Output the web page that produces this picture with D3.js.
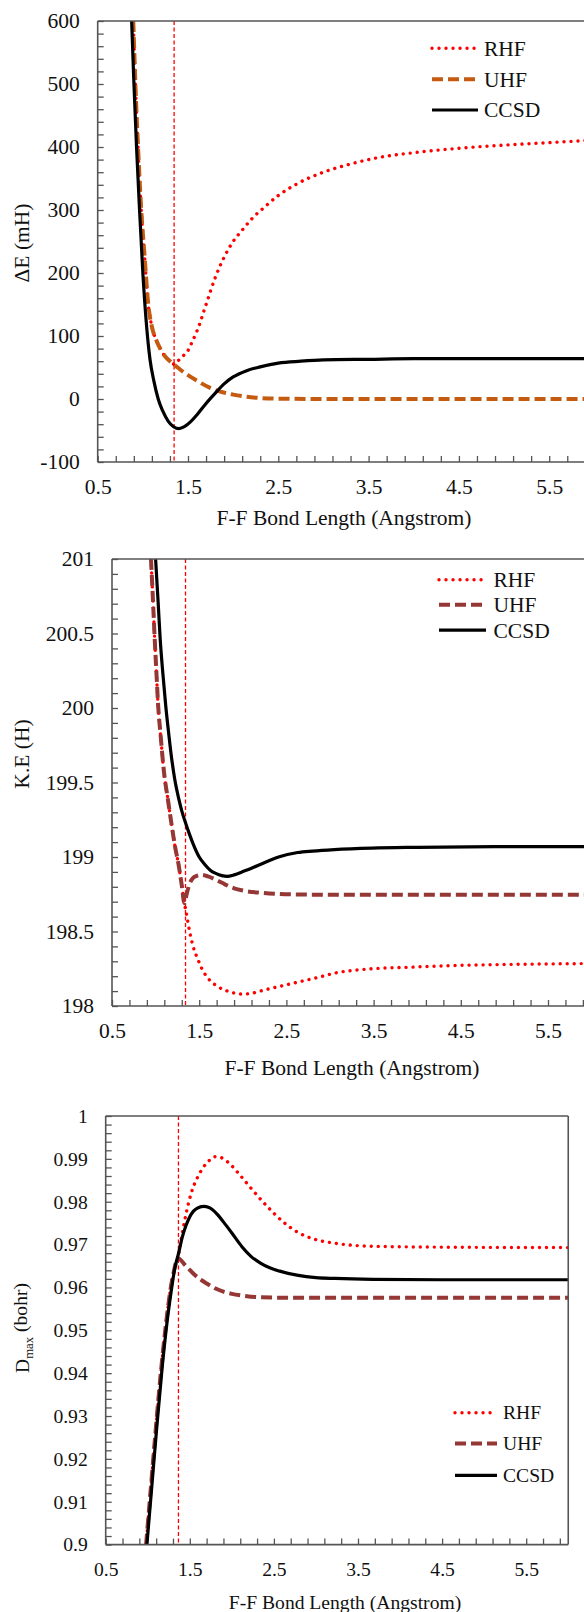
<!DOCTYPE html>
<html><head><meta charset="utf-8">
<script src="https://cdn.jsdelivr.net/npm/d3@7"></script>
<style>
html,body{margin:0;padding:0;background:#fff;}
svg{display:block;}
svg text{font-family:"Liberation Serif","Tinos","Times New Roman",serif;fill:#111;}
</style></head>
<body>
<svg id="chart" width="584" height="1612"></svg>
<script>
// ---------------- DATA ----------------
const seriesNames = ["RHF", "UHF", "CCSD"];
const xTickLabels = [0.5, 1.5, 2.5, 3.5, 4.5, 5.5];
const xTitle = "F-F Bond Length (Angstrom)";

// Panel 1: ΔE (mH)
const dETicks = [-100, 0, 100, 200, 300, 400, 500, 600];
const dE_RHF = [[0.894,600],[0.92,490],[0.95,390],[0.98,305],[1.02,225],[1.06,150],[1.1,115],[1.15,93],[1.2,78],[1.25,67],[1.3,60],[1.35,55],[1.4,62],[1.45,69],[1.5,77],[1.55,92],[1.6,108],[1.7,150],[1.8,192],[1.9,225],[2.0,250],[2.1,268],[2.2,285],[2.35,305],[2.5,323],[2.7,341],[3.0,360],[3.3,373],[3.6,383],[4.0,391],[4.5,398],[5.0,403],[5.5,407],[6.0,411]];
const dE_UHF = [[0.894,600],[0.92,490],[0.95,390],[0.98,305],[1.02,225],[1.06,150],[1.1,115],[1.15,93],[1.2,78],[1.25,67],[1.3,60],[1.35,54],[1.42,46],[1.5,38],[1.6,29],[1.74,18],[1.85,12],[2.0,7],[2.15,3.5],[2.3,1.5],[2.5,0.5],[3.0,0],[4.0,0],[5.0,0],[6.0,0]];
const dE_CCSD = [[0.876,600],[0.9,505],[0.93,400],[0.96,310],[1.0,200],[1.04,118],[1.08,62],[1.12,30],[1.17,0],[1.22,-19],[1.28,-35],[1.34,-44],[1.40,-47],[1.46,-44],[1.53,-36],[1.6,-25],[1.7,-7],[1.8,9],[1.9,24],[2.0,35],[2.15,45],[2.3,51],[2.5,57],[2.75,60],[3.0,62],[3.5,63],[4.0,64],[5.0,64],[6.0,64]];

// Panel 2: K.E (H)
const keTicks = [198, 198.5, 199, 199.5, 200, 200.5, 201];
const ke_RHF = [[0.947,201],[0.97,200.72],[0.99,200.46],[1.01,200.23],[1.03,200.01],[1.06,199.8],[1.096,199.57],[1.14,199.39],[1.18,199.23],[1.22,199.08],[1.266,198.94],[1.30,198.81],[1.33,198.69],[1.35,198.63],[1.39,198.50],[1.43,198.40],[1.48,198.32],[1.54,198.24],[1.61,198.18],[1.7,198.135],[1.78,198.11],[1.88,198.09],[1.99,198.08],[2.1,198.085],[2.2,198.10],[2.3,198.115],[2.41,198.13],[2.63,198.16],[2.85,198.19],[3.05,198.22],[3.48,198.25],[3.9,198.26],[4.33,198.27],[5.18,198.28],[6.0,198.285]];
const ke_UHF = [[0.947,201],[0.97,200.72],[0.99,200.46],[1.01,200.23],[1.03,200.01],[1.06,199.8],[1.096,199.57],[1.14,199.39],[1.18,199.23],[1.22,199.08],[1.266,198.94],[1.30,198.81],[1.33,198.69],[1.36,198.76],[1.39,198.82],[1.43,198.86],[1.48,198.875],[1.53,198.88],[1.6,198.87],[1.7,198.845],[1.8,198.815],[1.9,198.79],[2.0,198.775],[2.2,198.76],[2.4,198.752],[2.7,198.748],[3.0,198.747],[4.0,198.747],[5.0,198.747],[6.0,198.747]];
const ke_CCSD = [[1.0,201],[1.03,200.7],[1.053,200.46],[1.085,200.22],[1.117,200.01],[1.15,199.83],[1.18,199.68],[1.22,199.52],[1.266,199.39],[1.3,199.31],[1.343,199.23],[1.39,199.15],[1.436,199.08],[1.5,199.0],[1.564,198.95],[1.63,198.91],[1.69,198.89],[1.76,198.875],[1.82,198.87],[1.9,198.88],[1.99,198.9],[2.1,198.925],[2.2,198.95],[2.3,198.975],[2.41,199.0],[2.63,199.03],[2.8,199.04],[3.05,199.05],[3.48,199.06],[4.0,199.065],[5.0,199.07],[6.0,199.07]];

// Panel 3: Dmax (bohr)
const dmTicks = [0.9, 0.91, 0.92, 0.93, 0.94, 0.95, 0.96, 0.97, 0.98, 0.99, 1];
const dm_RHF = [[0.98,0.9],[1.04,0.914],[1.10,0.928],[1.16,0.941],[1.22,0.952],[1.27,0.9595],[1.31,0.9637],[1.358,0.9668],[1.40,0.9715],[1.456,0.9772],[1.52,0.9822],[1.59,0.9856],[1.66,0.988],[1.72,0.9894],[1.80,0.9905],[1.87,0.9903],[1.95,0.9893],[2.08,0.9866],[2.17,0.9845],[2.26,0.9824],[2.43,0.9787],[2.61,0.9753],[2.79,0.9728],[3.01,0.9711],[3.23,0.9703],[3.68,0.9696],[4.5,0.9694],[6.0,0.9693]];
const dm_UHF = [[0.98,0.9],[1.04,0.914],[1.10,0.928],[1.16,0.941],[1.22,0.952],[1.27,0.9595],[1.31,0.9637],[1.358,0.9668],[1.45,0.9651],[1.544,0.9632],[1.63,0.9618],[1.72,0.9607],[1.8,0.9598],[1.9,0.959],[2.0,0.9585],[2.12,0.9581],[2.34,0.9577],[2.7,0.9576],[4.0,0.9576],[6.0,0.9576]];
const dm_CCSD = [[0.99,0.9],[1.05,0.914],[1.11,0.928],[1.17,0.941],[1.23,0.952],[1.278,0.959],[1.32,0.9643],[1.367,0.968],[1.41,0.9717],[1.456,0.9745],[1.5,0.9765],[1.544,0.9778],[1.6,0.9786],[1.67,0.9789],[1.72,0.9787],[1.767,0.9782],[1.83,0.977],[1.9,0.9753],[2.0,0.9727],[2.12,0.9695],[2.23,0.9672],[2.34,0.9657],[2.45,0.9646],[2.57,0.9638],[2.79,0.9628],[3.0,0.9623],[3.23,0.9621],[3.68,0.9619],[4.5,0.9618],[6.0,0.9618]];

// Vertical reference line (bond length) per panel
const refLineX = [1.346, 1.343, 1.365];

// ---------------- LAYOUT / STYLE ----------------
const FONT = '"Liberation Serif","Tinos","Times New Roman",serif';
const svg = d3.select("#chart");
svg.append("rect").attr("width",584).attr("height",1612).attr("fill","#fff");

const AXIS_COLOR = "#555";
const RED = "#ff0000";

const panels = [
  { L:97.7, T:21, B:462, unit:90.3, yDom:[-100,600], yMinor:20, yTicks:dETicks, fmt:d=>String(d),
    font:21.5, series:[dE_RHF,dE_UHF,dE_CCSD], uhfColor:"#c55a11",
    ytitle:[{t:"\u0394E (mH)"}], ytX:22, ytY:243, xtY:525, xtX:344,
    legX:432, legLen:46, legText:484, legRows:[48.2,79.3,110], ref:refLineX[0] },
  { L:112, T:559, B:1006, unit:87.2, yDom:[198,201], yMinor:0.1, yTicks:keTicks, fmt:d=>String(d),
    font:21.5, series:[ke_RHF,ke_UHF,ke_CCSD], uhfColor:"#953735",
    ytitle:[{t:"K.E (H)"}], ytX:22, ytY:754, xtY:1075, xtX:352,
    legX:439, legLen:47, legText:493.5, legRows:[579.8,604.7,630.2], ref:refLineX[1] },
  { L:105.7, T:1116, B:1544.6, unit:84.1, yDom:[0.9,1], yMinor:0.002, yTicks:dmTicks, fmt:d=>String(d),
    font:19.6, series:[dm_RHF,dm_UHF,dm_CCSD], uhfColor:"#953735",
    ytitle:[{t:"D"},{t:"max",sub:true},{t:" (bohr)"}], ytX:22, ytY:1328, xtY:1609, xtX:345,
    legX:455, legLen:42, legText:503, legRows:[1412.7,1443.5,1475.4], ref:refLineX[2] }
];

panels.forEach((p, pi) => {
  const R = p.L + 5.5 * p.unit;
  const x = d3.scaleLinear().domain([0.5, 6]).range([p.L, R]);
  const y = d3.scaleLinear().domain(p.yDom).range([p.B, p.T]);
  const g = svg.append("g").attr("font-family", FONT);

  const clipId = "clip" + pi;
  svg.append("clipPath").attr("id", clipId).append("rect")
    .attr("x", p.L).attr("y", p.T).attr("width", R - p.L).attr("height", p.B - p.T);

  const nY = Math.round((p.yDom[1] - p.yDom[0]) / p.yMinor);
  const yMinorVals = d3.range(0, nY + 1).map(i => +(p.yDom[0] + i * p.yMinor).toFixed(6));
  const xMinorVals = d3.range(0, 28).map(i => +(0.5 + 0.2 * i).toFixed(6));
  const yLabelSet = new Set(p.yTicks.map(v => +v.toFixed(6)));
  const xLabelSet = new Set(xTickLabels.map(v => +v.toFixed(6)));

  const yAxis = d3.axisLeft(y).tickValues(yMinorVals).tickSize(-6).tickPadding(18)
    .tickFormat(d => yLabelSet.has(+d.toFixed(6)) ? p.fmt(d) : "");
  const ya = g.append("g").attr("transform", `translate(${p.L},0)`).call(yAxis);
  ya.attr("font-family", FONT).attr("font-size", p.font);
  ya.select(".domain").remove();
  ya.selectAll("line").attr("stroke", AXIS_COLOR).attr("stroke-width", 1.3);
  ya.selectAll("text").attr("fill", "#111");

  const xAxis = d3.axisBottom(x).tickValues(xMinorVals).tickSize(-6).tickPadding(17)
    .tickFormat(d => xLabelSet.has(+d.toFixed(6)) ? String(d) : "");
  const xa = g.append("g").attr("transform", `translate(0,${p.B})`).call(xAxis);
  xa.attr("font-family", FONT).attr("font-size", p.font);
  xa.select(".domain").remove();
  xa.selectAll("line").attr("stroke", AXIS_COLOR).attr("stroke-width", 1.3);
  xa.selectAll("text").attr("fill", "#111");

  g.append("line").attr("x1", x(p.ref)).attr("x2", x(p.ref)).attr("y1", p.T).attr("y2", p.B)
    .attr("stroke", RED).attr("stroke-width", 1.3).attr("stroke-dasharray", "4,2.5");

  const line = d3.line().x(d => x(d[0])).y(d => y(d[1])).curve(d3.curveMonotoneX);
  const styles = [
    { color: RED, width: 3.4, dash: "0.01,7", cap: "round" },
    { color: p.uhfColor, width: 4, dash: "11,5", cap: "butt" },
    { color: "#000", width: 3.2, dash: null, cap: "butt" }
  ];
  const lg = g.append("g").attr("clip-path", `url(#${clipId})`);
  p.series.forEach((s, i) => {
    const st = styles[i];
    lg.append("path").datum(s).attr("d", line).attr("fill", "none")
      .attr("stroke", st.color).attr("stroke-width", st.width)
      .attr("stroke-linecap", st.cap).attr("stroke-linejoin", "round")
      .attr("stroke-dasharray", st.dash);
  });

  const fr = g.append("g").attr("stroke", AXIS_COLOR).attr("stroke-width", 1.6).attr("fill", "none");
  fr.append("line").attr("x1", p.L).attr("x2", p.L).attr("y1", p.T).attr("y2", p.B);
  fr.append("line").attr("x1", p.L).attr("x2", R).attr("y1", p.B).attr("y2", p.B);
  fr.append("line").attr("x1", p.L).attr("x2", R).attr("y1", p.T).attr("y2", p.T);
  fr.append("line").attr("x1", R).attr("x2", R).attr("y1", p.T).attr("y2", p.B);

  seriesNames.forEach((name, i) => {
    const st = styles[i];
    const cy = p.legRows[i];
    g.append("line").attr("x1", p.legX).attr("x2", p.legX + p.legLen).attr("y1", cy).attr("y2", cy)
      .attr("stroke", st.color).attr("stroke-width", st.width)
      .attr("stroke-linecap", st.cap).attr("stroke-dasharray", st.dash);
    g.append("text").attr("x", p.legText).attr("y", cy).attr("dy", "0.34em")
      .attr("font-size", p.font).text(name);
  });

  g.append("text").attr("x", p.xtX).attr("y", p.xtY).attr("text-anchor", "middle")
    .attr("font-size", p.font).text(xTitle);

  const yt = g.append("text").attr("transform", `translate(${p.ytX},${p.ytY}) rotate(-90)`)
    .attr("text-anchor", "middle").attr("dy", "0.34em").attr("font-size", p.font);
  p.ytitle.forEach(part => {
    const ts = yt.append("tspan").text(part.t);
    if (part.sub) ts.attr("font-size", p.font * 0.65).attr("dy", "0.3em");
    else if (part.t.startsWith(" ") && p.ytitle.some(q => q.sub)) ts.attr("dy", "-0.3em");
  });
});
</script>
</body></html>
